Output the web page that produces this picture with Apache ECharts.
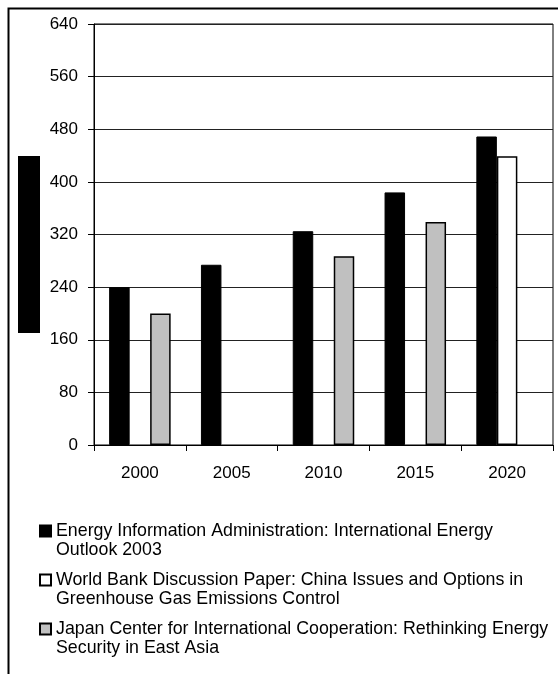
<!DOCTYPE html>
<html>
<head>
<meta charset="utf-8">
<script src="https://cdn.jsdelivr.net/npm/echarts@6/dist/echarts.min.js"></script>
<style>
html,body{margin:0;padding:0;background:#fff;}
#chart{width:558px;height:674px;}
</style>
</head>
<body>
<div id="chart"></div>
<script>
var years = ['2000', '2005', '2010', '2015', '2020'];
var eiaValues = [240, 274, 325, 384, 469];
var worldBankValues = [null, null, null, null, 439];
var japanValues = [200, null, 287, 339, null];
var yTicks = { min: 0, max: 640, interval: 80 };
var seriesNames = [
  'Energy Information Administration: International Energy\nOutlook 2003',
  'World Bank Discussion Paper: China Issues and Options in\nGreenhouse Gas Emissions Control',
  'Japan Center for International Cooperation: Rethinking Energy\nSecurity in East Asia'
];
var yTitle = 'Million Metric Tons of Carbon Equivalent';

var FONT = 'Liberation Sans, Arial, sans-serif';
var chart = echarts.init(document.getElementById('chart'), null, { renderer: 'canvas' });
chart.setOption({
  animation: false,
  backgroundColor: '#fff',
  textStyle: { fontFamily: FONT, color: '#000' },
  grid: { left: 94, right: 5, top: 24, bottom: 229, show: true, borderColor: '#000', borderWidth: 1, containLabel: false },
  graphic: [
    { type: 'rect', shape: { x: 8.5, y: 8.5, width: 700, height: 800 }, style: { fill: 'none', stroke: '#000', lineWidth: 2 }, silent: true },
    { type: 'rect', shape: { x: 18, y: 156, width: 22, height: 177 }, style: { fill: '#000' }, silent: true },
    { type: 'text', x: 29, y: 244.5, rotation: Math.PI / 2, silent: true,
      style: { text: yTitle, fill: '#000', font: '8px ' + FONT, align: 'center', verticalAlign: 'middle' } }
  ],
  legend: {
    orient: 'vertical',
    left: 39,
    top: 502.5,
    padding: 0,
    itemWidth: 11,
    itemHeight: 11,
    itemGap: -8,
    selectedMode: false,
    icon: 'rect',
    data: seriesNames,
    formatter: function (name) { return ' \n' + name; },
    textStyle: { fontSize: 17.8, lineHeight: 19, color: '#000', fontFamily: FONT }
  },
  xAxis: {
    type: 'category',
    data: years,
    axisLine: { show: true, lineStyle: { color: '#000', width: 1 } },
    axisTick: { show: true, length: 6, lineStyle: { color: '#000' } },
    axisLabel: { fontSize: 17, color: '#000', margin: 20, fontFamily: FONT },
    splitLine: { show: false }
  },
  yAxis: {
    type: 'value',
    min: yTicks.min,
    max: yTicks.max,
    interval: yTicks.interval,
    axisLine: { show: true, lineStyle: { color: '#000', width: 1 } },
    axisTick: { show: true, length: 6, lineStyle: { color: '#000' } },
    axisLabel: { fontSize: 17, color: '#000', margin: 16, fontFamily: FONT },
    splitLine: { show: true, lineStyle: { color: '#222', width: 1 } }
  },
  series: [
    { name: seriesNames[0], type: 'bar', data: eiaValues, barGap: '0%', barCategoryGap: '33%',
      itemStyle: { color: '#000', borderColor: '#000', borderWidth: 1 } },
    { name: seriesNames[1], type: 'bar', data: worldBankValues, barGap: '0%', barCategoryGap: '33%',
      itemStyle: { color: '#fff', borderColor: '#000', borderWidth: 1.5 } },
    { name: seriesNames[2], type: 'bar', data: japanValues, barGap: '0%', barCategoryGap: '33%',
      itemStyle: { color: '#c0c0c0', borderColor: '#000', borderWidth: 1.5 } }
  ]
});
</script>
</body>
</html>
